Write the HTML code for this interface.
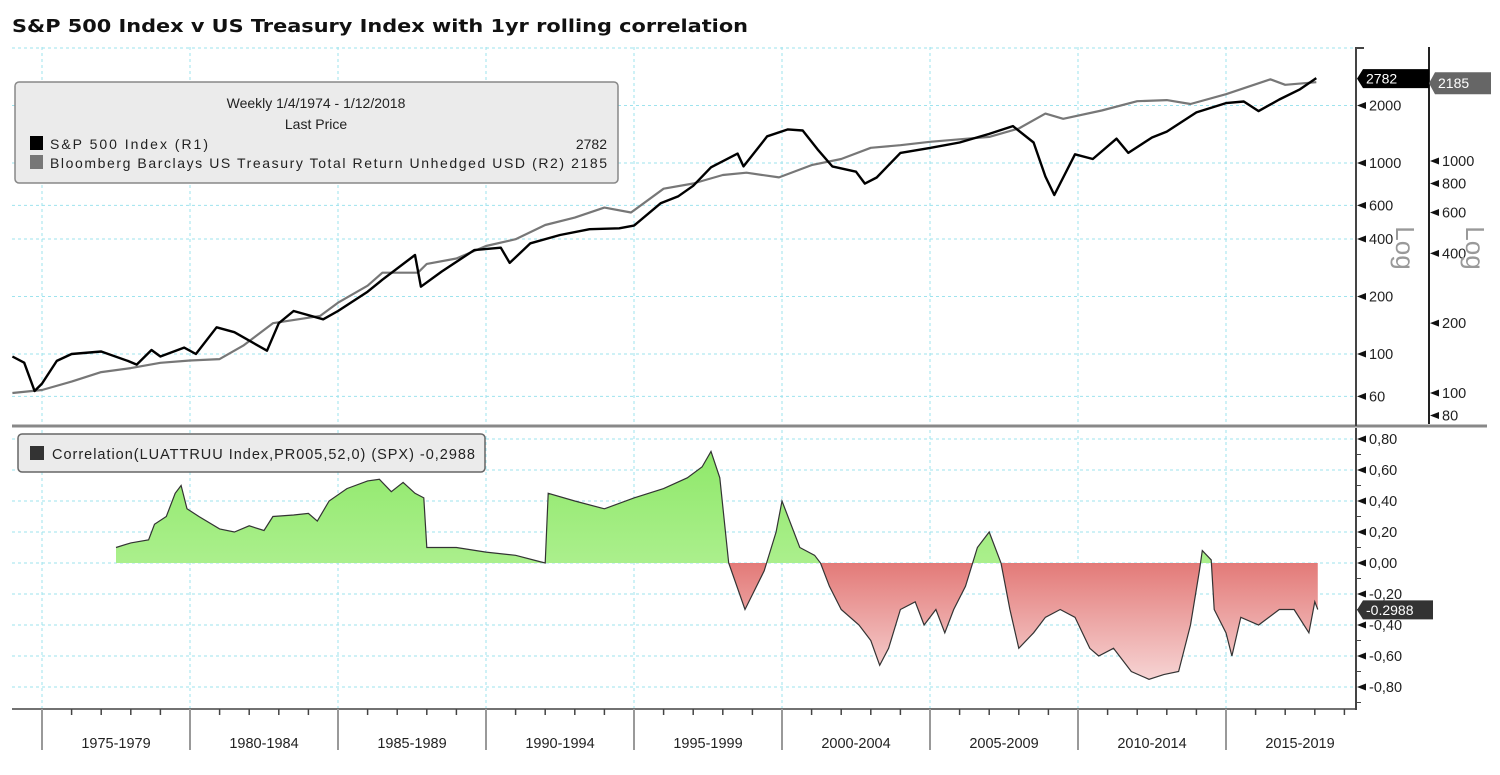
<!DOCTYPE html>
<html><head><meta charset="utf-8"><style>
body{margin:0;background:#fff;}
svg text{font-family:"Liberation Sans",sans-serif;}
</style></head><body>
<svg id="c" width="1500" height="770" viewBox="0 0 1500 770" xmlns="http://www.w3.org/2000/svg">
<defs>
<linearGradient id="gGreen" x1="0" y1="0" x2="0" y2="1"><stop offset="0" stop-color="#8fe86a"/><stop offset="1" stop-color="#c8f7b0"/></linearGradient>
<linearGradient id="gRed" gradientUnits="userSpaceOnUse" x1="0" y1="563" x2="0" y2="690"><stop offset="0" stop-color="#e37a78"/><stop offset="1" stop-color="#f8dcdc"/></linearGradient>
<clipPath id="clipPos"><rect x="0" y="0" width="1500" height="563"/></clipPath>
<clipPath id="clipNeg"><rect x="0" y="563" width="1500" height="300"/></clipPath>
</defs>
<text x="12" y="32" font-size="18" font-weight="bold" fill="#111" textLength="736" lengthAdjust="spacingAndGlyphs" style="font-family:'DejaVu Sans',sans-serif">S&amp;P 500 Index v US Treasury Index with 1yr rolling correlation</text>
<g id="grid"></g>
<g id="marks"></g>
<g id="axes"></g>
<rect x="15" y="82" width="603" height="101" rx="4" fill="#ebebeb" stroke="#888" stroke-width="1.5"/>
<text x="316" y="108" font-size="14" text-anchor="middle" fill="#222">Weekly 1/4/1974 - 1/12/2018</text>
<text x="316" y="129" font-size="14" text-anchor="middle" fill="#222">Last Price</text>
<rect x="30" y="136" width="13" height="14" fill="#000"/>
<text x="50" y="149" font-size="14" fill="#222" textLength="158">S&amp;P 500 Index  (R1)</text>
<text x="607" y="149" font-size="14" text-anchor="end" fill="#222">2782</text>
<rect x="30" y="155" width="13" height="14" fill="#777"/>
<text x="50" y="168" font-size="14" fill="#222" textLength="557">Bloomberg Barclays US Treasury Total Return Unhedged USD  (R2) 2185</text>
<rect x="18" y="434" width="467" height="38" rx="4" fill="#ebebeb" stroke="#666" stroke-width="1.5"/>
<rect x="30" y="446" width="14" height="14" fill="#333"/>
<text x="52" y="459" font-size="14.5" fill="#222" textLength="423">Correlation(LUATTRUU Index,PR005,52,0) (SPX)  -0,2988</text>
</svg>
<script>
const spxYears=[1974.0,1974.4,1974.75,1975.0,1975.5,1976.0,1977.0,1977.9,1978.2,1978.7,1979.0,1979.8,1980.2,1980.9,1981.5,1982.6,1983.0,1983.5,1984.5,1985.0,1986.0,1986.5,1987.6,1987.8,1988.5,1989.6,1990.5,1990.8,1991.5,1992.5,1993.5,1994.5,1995.0,1995.9,1996.5,1997.0,1997.6,1998.5,1998.7,1999.5,2000.2,2000.7,2001.2,2001.7,2002.5,2002.8,2003.2,2004.0,2005.0,2006.0,2007.0,2007.8,2008.5,2008.9,2009.2,2009.9,2010.5,2011.3,2011.7,2012.5,2013.0,2014.0,2015.0,2015.6,2016.1,2016.8,2017.5,2018.05];
const spxValues=[97,90,64,70,92,100,103,92,88,105,97,108,100,138,130,104,145,168,152,168,212,245,330,225,270,350,360,300,380,420,450,455,470,615,670,760,950,1120,960,1380,1500,1480,1180,960,900,780,840,1130,1200,1280,1420,1560,1280,850,680,1110,1050,1340,1130,1360,1460,1840,2060,2100,1870,2150,2430,2782];
const tsyYears=[1974.0,1975,1976,1977,1978,1979,1980,1981,1981.8,1982.8,1984.4,1985,1986,1986.5,1987.7,1988,1989,1990,1991,1992,1993,1994,1994.9,1996,1997,1998,1998.8,1999.9,2001,2002,2003,2004,2005,2006,2007,2008,2008.9,2009.5,2010.8,2012,2013,2013.8,2015,2016.5,2017,2018.05];
const tsyValues=[100,103,112,123,128,135,138,140,160,200,215,245,290,330,330,360,380,430,460,530,570,630,600,760,800,870,890,850,960,1020,1140,1170,1210,1240,1270,1380,1600,1520,1650,1810,1830,1760,1940,2250,2130,2185];
const corrYears=[1977.5,1978.0,1978.6,1978.8,1979.2,1979.5,1979.7,1979.9,1980.3,1981.0,1981.5,1982.0,1982.5,1982.8,1983.5,1984.0,1984.3,1984.7,1985.3,1986.0,1986.4,1986.8,1987.2,1987.6,1987.9,1988.0,1989.0,1990.0,1991.0,1991.8,1992.0,1992.1,1993.0,1994.0,1995.0,1996.0,1996.8,1997.3,1997.6,1997.9,1998.2,1998.75,1999.4,1999.8,2000.0,2000.6,2001.1,2001.3,2001.6,2002.0,2002.6,2003.0,2003.3,2003.6,2004.0,2004.5,2004.8,2005.2,2005.5,2005.8,2006.2,2006.6,2007.0,2007.4,2007.7,2008.0,2008.5,2008.9,2009.4,2009.9,2010.4,2010.7,2011.2,2011.8,2012.4,2012.9,2013.4,2013.8,2014.1,2014.2,2014.5,2014.6,2015.0,2015.2,2015.5,2016.1,2016.8,2017.3,2017.8,2018.0,2018.1];
const corrValues=[0.10,0.13,0.15,0.25,0.30,0.45,0.50,0.35,0.30,0.22,0.20,0.24,0.21,0.30,0.31,0.32,0.27,0.40,0.48,0.53,0.54,0.46,0.52,0.45,0.42,0.10,0.10,0.07,0.05,0.01,0.0,0.45,0.40,0.35,0.42,0.48,0.55,0.62,0.72,0.55,0.0,-0.30,-0.05,0.20,0.40,0.10,0.05,0.0,-0.15,-0.30,-0.40,-0.50,-0.66,-0.55,-0.30,-0.25,-0.40,-0.30,-0.45,-0.30,-0.15,0.10,0.20,0.0,-0.30,-0.55,-0.45,-0.35,-0.30,-0.35,-0.55,-0.60,-0.55,-0.70,-0.75,-0.72,-0.70,-0.40,-0.05,0.08,0.02,-0.30,-0.45,-0.60,-0.35,-0.40,-0.30,-0.30,-0.45,-0.25,-0.30];
const r1Ticks=[2000,1000,600,400,200,100,60];
const r2Ticks=[1000,800,600,400,200,100,80];
const corrTicks=[0.8,0.6,0.4,0.2,0,-0.2,-0.4,-0.6,-0.8];
const corrTickLabels=["0,80","0,60","0,40","0,20","0,00","-0,20","-0,40","-0,60","-0,80"];
const periodLabels=["1975-1979","1980-1984","1985-1989","1990-1994","1995-1999","2000-2004","2005-2009","2010-2014","2015-2019"];
const lastSpx="2782", lastTsy="2185", lastCorr="-0.2988";

const NS="http://www.w3.org/2000/svg";
const X=y=>42+(y-1975)*29.6;
const Y1=v=>163-(Math.log10(v)-3)*191;
const Y2=v=>161-(Math.log10(v)-3)*232;
const YC=v=>563-v*155;
function mk(parent,tag,attrs,text){const e=document.createElementNS(NS,tag);for(const k in attrs)e.setAttribute(k,attrs[k]);if(text!==undefined)e.textContent=text;document.getElementById(parent).appendChild(e);return e;}
for(let yr=1975;yr<=2020;yr+=5){const x=X(yr);if(x>1355)break;
 let g=mk('grid','line',{x1:x,x2:x,y1:47,y2:425,stroke:'#9ee3ee','stroke-dasharray':'3,3'});
 
 g=mk('grid','line',{x1:x,x2:x,y1:430,y2:708,stroke:'#9ee3ee','stroke-dasharray':'3,3'});
 }
[50].concat(r1Ticks).forEach(v=>{const y=v===50?48:Y1(v);const g=mk('grid','line',{x1:12,x2:1355,y1:y,y2:y,stroke:'#9ee3ee','stroke-dasharray':'3,3'});
 });
corrTicks.forEach(v=>{const y=YC(v);const g=mk('grid','line',{x1:12,x2:1355,y1:y,y2:y,stroke:'#9ee3ee','stroke-dasharray':'3,3'});
 });
let pts=corrYears.map((y,i)=>X(y).toFixed(1)+','+YC(corrValues[i]).toFixed(1));
const areaD='M'+X(corrYears[0])+','+YC(0)+' L'+pts.join(' L')+' L'+X(corrYears[corrYears.length-1])+','+YC(0)+'Z';
let a=mk('marks','path',{d:areaD,fill:'url(#gGreen)','clip-path':'url(#clipPos)'});

a=mk('marks','path',{d:areaD,fill:'url(#gRed)','clip-path':'url(#clipNeg)'});

a=mk('marks','polyline',{points:pts.join(' '),fill:'none',stroke:'#333','stroke-width':1.2});

a=mk('marks','polyline',{points:tsyYears.map((y,i)=>X(y).toFixed(1)+','+Y2(tsyValues[i]).toFixed(1)).join(' '),fill:'none',stroke:'#777','stroke-width':2.2,'stroke-linejoin':'round'});

a=mk('marks','polyline',{points:spxYears.map((y,i)=>X(y).toFixed(1)+','+Y1(spxValues[i]).toFixed(1)).join(' '),fill:'none',stroke:'#000','stroke-width':2.4,'stroke-linejoin':'round'});

a=mk('axes','line',{x1:12,x2:1487,y1:426,y2:426,stroke:'#888','stroke-width':3});

a=mk('axes','line',{x1:1356,x2:1356,y1:47,y2:426,stroke:'#444','stroke-width':2});

mk('axes','line',{x1:1356,x2:1364,y1:48,y2:48,stroke:'#444','stroke-width':2});
a=mk('axes','line',{x1:1429,x2:1429,y1:47,y2:424,stroke:'#222','stroke-width':2});

a=mk('axes','line',{x1:1356,x2:1356,y1:428,y2:710,stroke:'#444','stroke-width':2});

a=mk('axes','line',{x1:12,x2:1356,y1:709,y2:709,stroke:'#444','stroke-width':1.5});

function tri(x,y){mk('axes','path',{d:`M${x},${y} l9,-3.5 v7z`,fill:'#111'});}
r1Ticks.forEach(v=>{const y=Y1(v);tri(1357,y);const t=mk('axes','text',{x:1369,y:y+5,'font-size':14.5,fill:'#222'},String(v));
 });
r2Ticks.forEach(v=>{const y=Y2(v);tri(1430,y);const t=mk('axes','text',{x:1442,y:y+5,'font-size':14.5,fill:'#222'},String(v));
 });
corrTicks.forEach((v,i)=>{const y=YC(v);tri(1357,y);const t=mk('axes','text',{x:1369,y:y+5,'font-size':14.5,fill:'#222'},corrTickLabels[i]);
 
 mk('axes','line',{x1:1356,x2:1361,y1:y+15.5,y2:y+15.5,stroke:'#444'});});
['Log','Log'].forEach((s,i)=>{const x=i?1466:1396;const t=mk('axes','text',{x:x,y:248,'font-size':26,fill:'#999','text-anchor':'middle',transform:`rotate(90 ${x} 248)`},s);
 });
for(let yr=1975;yr<=2019;yr++){const x=X(yr);const big=(yr%5===0);
 mk('axes','line',{x1:x,x2:x,y1:709,y2:big?750:715,stroke:big?'#999':'#444','stroke-width':big?2:1.5});}
periodLabels.forEach((s,i)=>{const t=mk('axes','text',{x:X(1977.5+5*i),y:748,'font-size':14.5,'text-anchor':'middle',fill:'#222'},s);
 });
function tag(x,y,w,h,fill,txt,name){const g=mk('axes','path',{d:`M${x},${y+h/2} l6,-${h/2} h${w} v${h} h-${w}z`,fill:fill});
 
 const t=mk('axes','text',{x:x+9,y:y+h/2+5,'font-size':14,fill:'#fff'},txt);
 }
tag(1357,Y1(2782)-9,66,19,'#000',lastSpx,'spx-last-tag');
tag(1429,Y2(2185)-10,56,22,'#666',lastTsy,'treasury-last-tag');
tag(1357,YC(-0.2988)-9,70,19,'#333',lastCorr,'correlation-last-tag');
</script>
</body></html>
